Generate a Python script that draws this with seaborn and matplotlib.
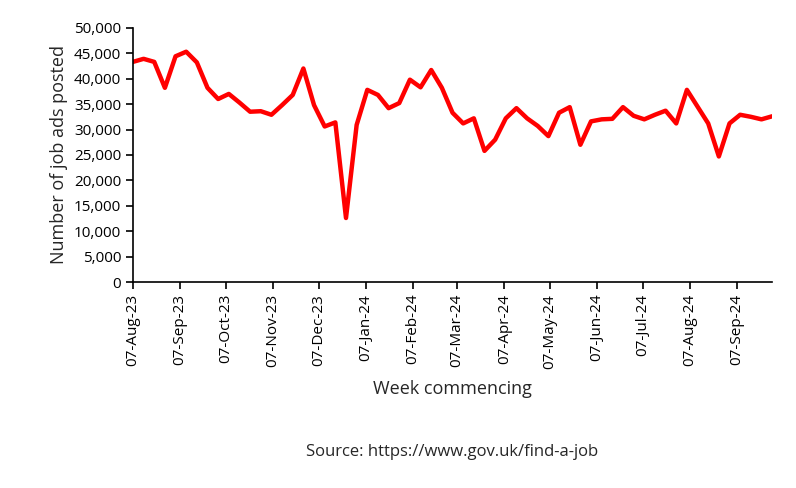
import matplotlib

matplotlib.use("Agg")
import matplotlib.pyplot as plt
import matplotlib.dates as mdates
import matplotlib.ticker as mticker
import numpy as np
import pandas as pd
import seaborn as sns

START = "2023-08-07"
ADS = [43300, 43900, 43300, 38200, 44400, 45300, 43200, 38200, 36000, 37000,
       35300, 33500, 33600, 32900, 34800, 36800, 42000, 34800, 30600, 31400,
       12600, 30900, 37800, 36800, 34200, 35200, 39800, 38300, 41700, 38200,
       33300, 31200, 32200, 25800, 28000, 32200, 34200, 32200, 30700, 28700,
       33300, 34400, 27000, 31600, 32000, 32100, 34400, 32700, 32000, 32900,
       33700, 31200, 37800, 34500, 31200, 24700, 31200, 32900, 32500, 32000,
       32600]

df = pd.DataFrame({"week": pd.date_range(START, periods=len(ADS), freq="7D"),
                   "ads": ADS})

sns.set_style("ticks")
plt.rcParams["font.family"] = ["Open Sans", "DejaVu Sans"]

fig = plt.figure(figsize=(7.96, 4.88), dpi=100)
ax = fig.add_axes([0.167, 0.422, 0.803, 0.521])
sns.lineplot(data=df, x="week", y="ads", color="#ff0000", linewidth=3.2, ax=ax)

ax.set_xlim(df["week"].iloc[0], df["week"].iloc[-1])
ax.set_ylim(0, 50000)
ax.yaxis.set_major_locator(mticker.MultipleLocator(5000))
ax.yaxis.set_major_formatter(mticker.StrMethodFormatter("{x:,.0f}"))
ax.xaxis.set_major_locator(mdates.MonthLocator(bymonthday=7))
ax.xaxis.set_major_formatter(mdates.DateFormatter("%d-%b-%y"))
for s in ["top", "right"]:
    ax.spines[s].set_visible(False)
for s in ["left", "bottom"]:
    ax.spines[s].set_color("black")
    ax.spines[s].set_linewidth(1.2)
ax.tick_params(axis="both", colors="black", labelsize=11, direction="out",
               length=5, width=1.2)
ax.tick_params(axis="x", labelrotation=90)
ax.set_xlabel("Week commencing", fontsize=13, labelpad=8)
ax.set_ylabel("Number of job ads posted", fontsize=13)
fig.text(0.568, 0.073, "Source: https://www.gov.uk/find-a-job", ha="center",
         va="center", fontsize=12)

fig.savefig("out.png", dpi=100)
